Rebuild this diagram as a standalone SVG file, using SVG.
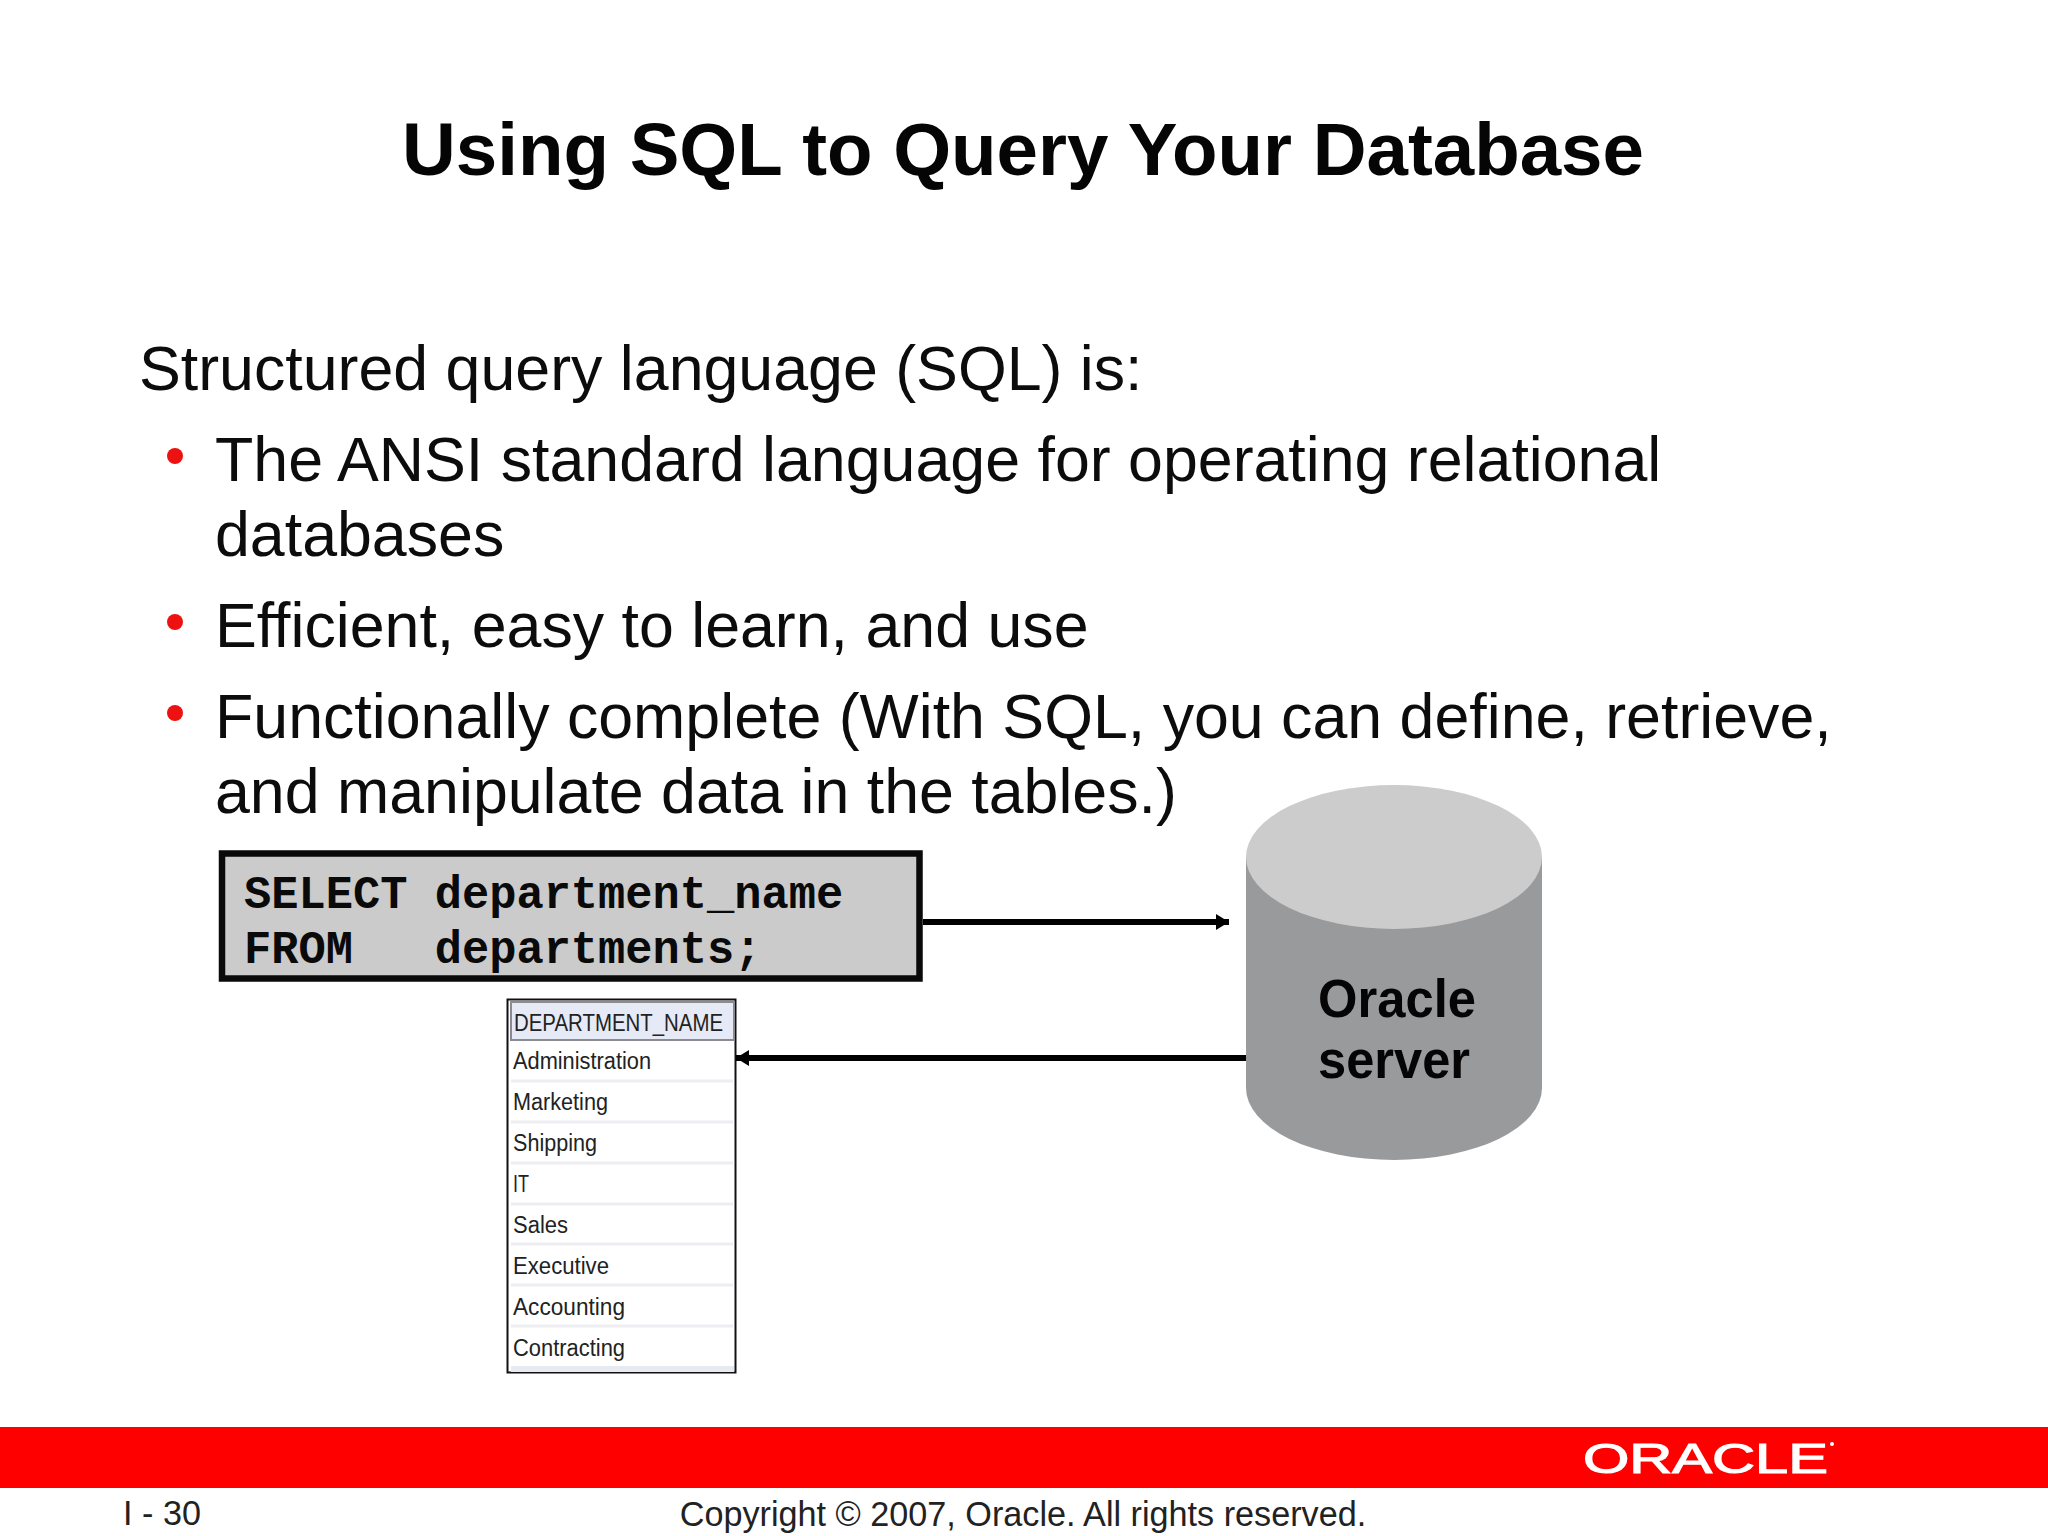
<svg xmlns="http://www.w3.org/2000/svg" width="2048" height="1536" viewBox="0 0 2048 1536">
<style>
text{font-family:"Liberation Sans",Arial,sans-serif;fill:#000}
.title{font-size:74.500px;font-weight:bold;text-anchor:middle;fill:#050505}
.body{font-size:62.700px;fill:#0c0c0c}
.bullet{fill:#ee1111}
.sql{font-family:"Liberation Mono","Courier New",monospace;font-size:45.400px;font-weight:bold;white-space:pre;fill:#0a0a0a}
.cell{font-size:23.500px;fill:#222}
.sep{stroke:#eeeef2;stroke-width:3}
.srv{font-size:53px;font-weight:bold;fill:#050505}
.foot{font-size:34.200px;fill:#222}
.conn{stroke:#000;stroke-width:6;fill:none}
.logo{font-size:43px;fill:#fff;stroke:#fff;stroke-width:1.200}
</style>
<defs>
<marker id="ah" markerUnits="userSpaceOnUse" markerWidth="14" markerHeight="18" refX="13" refY="9" orient="auto"><path d="M0 1L13 9L0 17Z" fill="#000"/></marker>
</defs>
<rect width="2048" height="1536" fill="#fff"/>
<text class="title" x="1023" y="175">Using SQL to Query Your Database</text>
<g id="body">
<text class="body" x="139" y="390">Structured query language (SQL) is:</text>
<circle class="bullet" cx="175" cy="456" r="8"/>
<text class="body" x="215" y="481">The ANSI standard language for operating relational</text>
<text class="body" x="215" y="556">databases</text>
<circle class="bullet" cx="175" cy="622" r="8"/>
<text class="body" x="215" y="647">Efficient, easy to learn, and use</text>
<circle class="bullet" cx="175" cy="713" r="8"/>
<text class="body" x="215" y="738">Functionally complete (With SQL, you can define, retrieve,</text>
<text class="body" x="215" y="813">and manipulate data in the tables.)</text>
</g>
<g id="sql-box">
<rect x="222" y="853.500" width="697.500" height="125" fill="#cbcbcb" stroke="#0a0a0a" stroke-width="6.500"/>
<text class="sql" x="244" y="908">SELECT department_name</text>
<text class="sql" x="244" y="963">FROM   departments;</text>
</g>
<g id="result-table">
<rect x="507.500" y="999.500" width="228" height="373" fill="#fff" stroke="#111" stroke-width="2"/>
<rect x="511" y="1002" width="223" height="38" fill="#e6eaf6" stroke="#8a8a90" stroke-width="2"/>
<rect x="511" y="1366" width="223" height="6" fill="#e8eaf2"/>
<path class="sep" d="M511 1081H733M511 1122H733M511 1163H733M511 1204H733M511 1244H733M511 1285H733M511 1326H733"/>
<text class="cell" x="514" y="1031" textLength="209" lengthAdjust="spacingAndGlyphs">DEPARTMENT_NAME</text>
<text class="cell" x="513" y="1069" textLength="138" lengthAdjust="spacingAndGlyphs">Administration</text>
<text class="cell" x="513" y="1110" textLength="95" lengthAdjust="spacingAndGlyphs">Marketing</text>
<text class="cell" x="513" y="1151" textLength="84" lengthAdjust="spacingAndGlyphs">Shipping</text>
<text class="cell" x="513" y="1192" textLength="16" lengthAdjust="spacingAndGlyphs">IT</text>
<text class="cell" x="513" y="1233" textLength="55" lengthAdjust="spacingAndGlyphs">Sales</text>
<text class="cell" x="513" y="1274" textLength="96" lengthAdjust="spacingAndGlyphs">Executive</text>
<text class="cell" x="513" y="1315" textLength="112" lengthAdjust="spacingAndGlyphs">Accounting</text>
<text class="cell" x="513" y="1356" textLength="112" lengthAdjust="spacingAndGlyphs">Contracting</text>
</g>
<g id="oracle-server">
<path d="M1246 857V1088A148 72 0 0 0 1542 1088V857Z" fill="#999a9c"/>
<ellipse cx="1394" cy="857" rx="148" ry="72" fill="#cccccc"/>
<text class="srv" x="1318" y="1017" textLength="158" lengthAdjust="spacingAndGlyphs">Oracle</text>
<text class="srv" x="1318" y="1078" textLength="152" lengthAdjust="spacingAndGlyphs">server</text>
</g>
<g id="connectors">
<path class="conn" d="M923 922H1229" marker-end="url(#ah)"/>
<path class="conn" d="M1246 1058H736" marker-end="url(#ah)"/>
</g>
<g id="footer">
<rect y="1427" width="2048" height="61" fill="#ff0000"/>
<text class="logo" x="1583" y="1473" textLength="245" lengthAdjust="spacingAndGlyphs">ORACLE</text>
<circle cx="1832" cy="1444" r="2" fill="#fff"/>
<text class="foot" x="123" y="1525">I - 30</text>
<text class="foot" x="1023" y="1526" text-anchor="middle">Copyright © 2007, Oracle. All rights reserved.</text>
</g>
</svg>
